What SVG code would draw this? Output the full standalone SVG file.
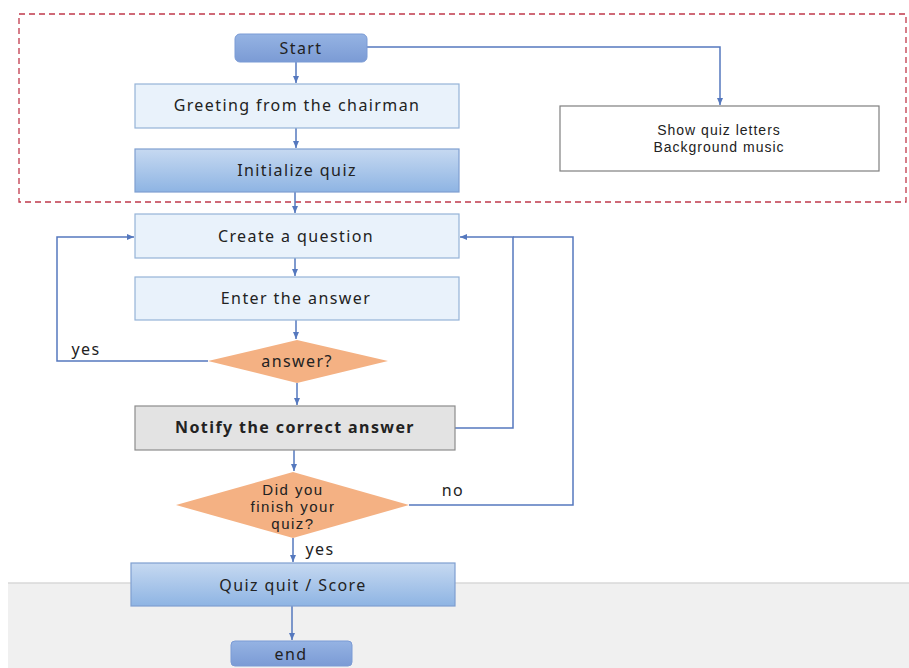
<svg xmlns="http://www.w3.org/2000/svg" width="909" height="668" viewBox="0 0 909 668">
<style>
.t{font-family:"Noto Sans","Open Sans","Liberation Sans",sans-serif;font-size:16px;letter-spacing:1.4px;fill:#222;text-anchor:middle;dominant-baseline:central}
.s{font-family:"Liberation Sans",Arial,sans-serif;font-size:14px;letter-spacing:1px}
.d{font-family:"Liberation Sans",Arial,sans-serif;font-size:15px;letter-spacing:1.5px}
.b{font-weight:bold}
.lt{fill:#e9f2fb;stroke:#95b3d7;stroke-width:1.2}
.gr{fill:url(#g1);stroke:#7f9fd0;stroke-width:1.2}
.dm{fill:#f4b183;stroke:none}
.c{fill:none;stroke:#5578be;stroke-width:1.5}
</style>
<defs>
<linearGradient id="g1" x1="0" y1="0" x2="0" y2="1"><stop offset="0" stop-color="#c6d9f1"/><stop offset="1" stop-color="#8eb4e3"/></linearGradient>
<linearGradient id="g2" x1="0" y1="0" x2="0" y2="1"><stop offset="0" stop-color="#95b3e3"/><stop offset="1" stop-color="#7b9bd5"/></linearGradient>
<marker id="a" markerWidth="8" markerHeight="8" refX="7" refY="4" orient="auto" markerUnits="userSpaceOnUse"><path d="M0,1 L7,4 L0,7 z" fill="#5578be"/></marker>
</defs>
<rect x="0" y="0" width="909" height="668" fill="#fff"/>
<rect x="8" y="583" width="901" height="85" fill="#f0f0f0"/>
<line x1="8" y1="583" x2="909" y2="583" stroke="#d9d9d9" stroke-width="1.5"/>
<rect x="19" y="14" width="887" height="188" fill="none" stroke="#c0394b" stroke-width="1.3" stroke-dasharray="6,4"/>
<g id="connectors">
<path class="c" d="M296,62 V83" marker-end="url(#a)"/>
<path class="c" d="M367,47 H720 V105" marker-end="url(#a)"/>
<path class="c" d="M296,128 V148" marker-end="url(#a)"/>
<path class="c" d="M295,192 V213" marker-end="url(#a)"/>
<path class="c" d="M295,258 V276" marker-end="url(#a)"/>
<path class="c" d="M296,320 V339" marker-end="url(#a)"/>
<path class="c" d="M208,361 H57 V237 H134" marker-end="url(#a)"/>
<path class="c" d="M297,383 V405" marker-end="url(#a)"/>
<path class="c" d="M455,428 H513 V237 H460" marker-end="url(#a)"/>
<path class="c" d="M409,505 H573 V237 H513"/>
<path class="c" d="M294,450 V471" marker-end="url(#a)"/>
<path class="c" d="M293,538 V562" marker-end="url(#a)"/>
<path class="c" d="M292,606 V640" marker-end="url(#a)"/>
</g>
<g id="start"><rect x="235" y="34" width="132" height="28" rx="5" fill="url(#g2)" stroke="#7b9bd5"/><text class="t" x="301" y="48">Start</text></g>
<g id="greeting"><rect class="lt" x="135" y="84" width="324" height="44"/><text class="t" x="297" y="105">Greeting from the chairman</text></g>
<g id="init"><rect class="gr" x="135" y="149" width="324" height="43"/><text class="t" x="297" y="170">Initialize quiz</text></g>
<g id="show"><rect x="560" y="106" width="319" height="65" fill="#fff" stroke="#7f7f7f" stroke-width="1.2"/><text class="t s"><tspan x="719" y="130">Show quiz letters</tspan><tspan x="719" y="147">Background music</tspan></text></g>
<g id="create"><rect class="lt" x="135" y="214" width="324" height="44"/><text class="t" x="296" y="236">Create a question</text></g>
<g id="enter"><rect class="lt" x="135" y="277" width="324" height="43"/><text class="t" x="296" y="298">Enter the answer</text></g>
<g id="answer"><polygon class="dm" points="297,340 388,361 297,383 208,361"/><text class="t" x="297" y="361">answer?</text></g>
<g id="notify"><rect x="135" y="406" width="320" height="44" fill="#e3e3e3" stroke="#8c8c8c" stroke-width="1.2"/><text class="t b" x="295" y="427">Notify the correct answer</text></g>
<g id="finish"><polygon class="dm" points="293,472 409,505 293,538 176,505"/><text class="t d"><tspan x="293" y="489">Did you</tspan><tspan x="293" y="506">finish your</tspan><tspan x="293" y="523">quiz?</tspan></text></g>
<g id="quit"><rect class="gr" x="131" y="563" width="324" height="43"/><text class="t" x="293" y="585">Quiz quit / Score</text></g>
<g id="end"><rect x="231" y="641" width="121" height="25" rx="4" fill="url(#g2)" stroke="#7b9bd5"/><text class="t" x="291" y="654">end</text></g>
<text class="t" x="86" y="349">yes</text>
<text class="t" x="453" y="490">no</text>
<text class="t" x="320" y="549">yes</text>
</svg>
